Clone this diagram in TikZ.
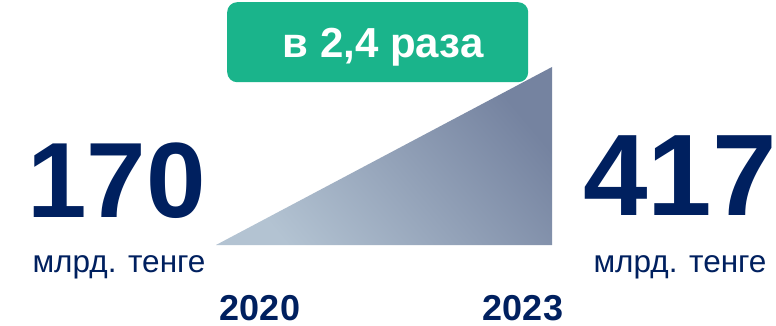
\documentclass[tikz,border=0pt]{standalone}
\usepackage{fontspec}
\setmainfont{Liberation Sans}
\definecolor{navy}{HTML}{00205F}
\definecolor{greenbox}{HTML}{1AB48B}
\definecolor{trilight}{HTML}{B3C3D2}
\definecolor{tridark}{HTML}{7583A0}
\begin{document}
\begin{tikzpicture}[x=1pt,y=-1pt,
  txt/.style={inner sep=0pt,anchor=base,text=navy},
  bignum/.style={txt,font=\bfseries\fontsize{107}{107}\selectfont},
  unit/.style={txt,font=\fontsize{31.5}{31.5}\selectfont},
  year/.style={txt,font=\bfseries\fontsize{36}{36}\selectfont}]
\useasboundingbox (0,0) rectangle (776,326);
\fill[white] (0,0) rectangle (776,326);
% triangle with gradient
\shade[left color=trilight, right color=tridark, shading angle=130] (216,245) -- (552,67) -- (552,245) -- cycle;
% green box
\node[fill=greenbox, rounded corners=10pt, minimum width=301pt, minimum height=80pt, inner sep=0pt, anchor=north west] (box) at (227,2) {};
\node[inner sep=0pt, anchor=base, text=white, font=\bfseries\fontsize{42}{42}\selectfont] (ratio) at (383,58) {в 2,4 раза};
\node[bignum] (v1) at (116.5,217) {170};
\node[bignum,font=\bfseries\fontsize{116}{116}\selectfont] (v2) at (680,215) {417};
\node[unit] (u1) at (119,272) {млрд. тенге};
\node[unit] (u2) at (680,272) {млрд. тенге};
\node[year] (y1) at (260,320) {2020};
\node[year] (y2) at (523,320) {2023};
\end{tikzpicture}
\end{document}
